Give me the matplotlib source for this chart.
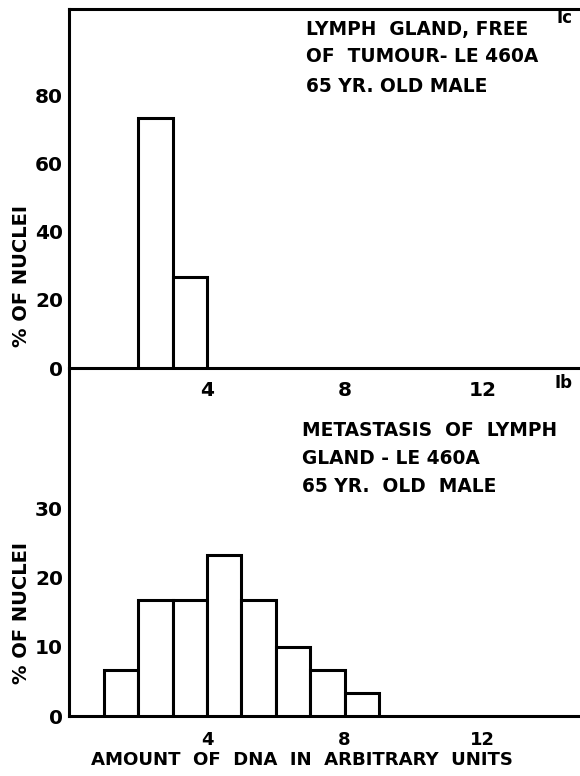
import matplotlib
matplotlib.use('Agg')
import matplotlib.pyplot as plt

# ---- data ----
top_left_edges = [2, 3]
top_percent = [73.3, 26.7]
bottom_left_edges = [1, 2, 3, 4, 5, 6, 7, 8]
bottom_percent = [6.7, 16.7, 16.7, 23.3, 16.7, 10.0, 6.7, 3.3]
x_ticks = [4, 8, 12]
x_tick_labels = ['4', '8', '12']
top_yticks = [0, 20, 40, 60, 80]
bottom_yticks = [0, 10, 20, 30]

top_lines = ["LYMPH  GLAND, FREE", "OF  TUMOUR- LE 460A", "65 YR. OLD MALE"]
bottom_lines = ["METASTASIS  OF  LYMPH", "GLAND - LE 460A", "65 YR.  OLD  MALE"]

plt.rcParams['font.family'] = ['DejaVu Sans']
plt.rcParams['font.weight'] = 'bold'

W, H = 580, 776
fig = plt.figure(figsize=(W / 100, H / 100), dpi=100)


def fx(px):
    return px / W


def fy(py):
    return 1 - py / H


x0 = 69.4
unit = 34.4
xmax = (W - x0) / unit
LW = 2.2

ax_top = fig.add_axes([fx(x0), fy(368), 1 - fx(x0), (368 - 9) / H])
ax_bot = fig.add_axes([fx(x0), fy(716), 1 - fx(x0), (716 - 368) / H])

ax_top.bar(top_left_edges, top_percent, width=1, align='edge',
           facecolor='white', edgecolor='black', linewidth=LW, zorder=3)
ax_bot.bar(bottom_left_edges, bottom_percent, width=1, align='edge',
           facecolor='white', edgecolor='black', linewidth=LW, zorder=3)

ax_top.set_xlim(0, xmax)
ax_bot.set_xlim(0, xmax)
ax_top.set_ylim(0, (368 - 9) / 3.41)
ax_bot.set_ylim(0, (716 - 368) / 6.93)

for ax in (ax_top, ax_bot):
    ax.set_xticks(x_ticks)
    ax.set_xticklabels(x_tick_labels)
    ax.spines['right'].set_visible(False)
    for s in ax.spines.values():
        s.set_linewidth(LW)
    ax.tick_params(axis='y', length=0, pad=4.5, labelsize=14.5)
    ax.set_facecolor('none')

ax_top.set_yticks(top_yticks)
ax_bot.set_yticks(bottom_yticks)
ax_top.tick_params(axis='x', length=0, pad=9, labelsize=14.5)
ax_bot.tick_params(axis='x', length=0, pad=11, labelsize=13)
ax_bot.spines['top'].set_visible(False)
for lab in ax_top.get_yticklabels() + ax_top.get_xticklabels() + \
        ax_bot.get_yticklabels() + ax_bot.get_xticklabels():
    lab.set_fontweight('bold')

# y labels
fig.text(fx(22), fy(276), "% OF NUCLEI", rotation=90, ha='center', va='center',
         fontsize=14, fontweight='bold')
fig.text(fx(22), fy(613), "% OF NUCLEI", rotation=90, ha='center', va='center',
         fontsize=14, fontweight='bold')

# x label
fig.text(fx(301.5), fy(760), "AMOUNT  OF  DNA  IN  ARBITRARY  UNITS",
         ha='center', va='center', fontsize=13.1, fontweight='bold')

# annotations
for y, t in zip([30, 57, 87], top_lines):
    fig.text(fx(306), fy(y), t, ha='left', va='center', fontsize=13.4,
             fontweight='bold')
for y, t in zip([430, 459, 486], bottom_lines):
    fig.text(fx(302), fy(y), t, ha='left', va='center', fontsize=13.4,
             fontweight='bold')

fig.text(fx(564), fy(18), "Ic", ha='center', va='center', fontsize=12,
         fontweight='bold')
fig.text(fx(563), fy(383), "Ib", ha='center', va='center', fontsize=12,
         fontweight='bold')

fig.savefig('out.png', dpi=100)
